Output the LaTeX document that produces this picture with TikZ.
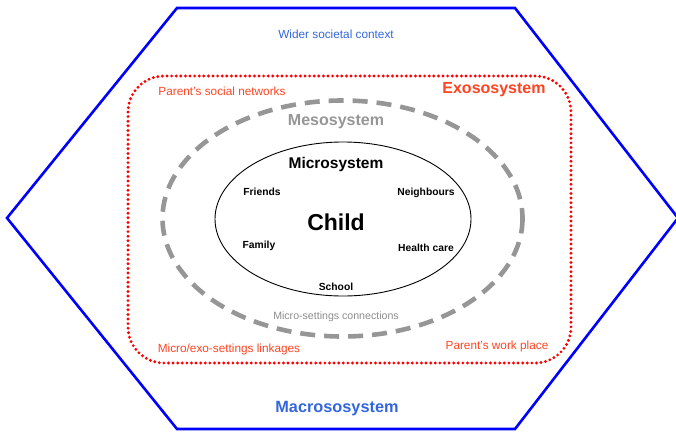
\documentclass[tikz,border=0pt]{standalone}
\usepackage{fontspec}
\setmainfont{Liberation Sans}
\usepackage{tikz}
\usetikzlibrary{positioning}

\definecolor{hexblue}{RGB}{0,0,255}
\definecolor{macroblue}{RGB}{51,102,221}
\definecolor{exored}{RGB}{255,0,0}
\definecolor{exotext}{RGB}{255,68,34}
\definecolor{mesogray}{RGB}{150,150,150}
\definecolor{linkgray}{RGB}{140,140,140}

\begin{document}
\begin{tikzpicture}[x=1pt,y=-1pt]
\tikzset{
	macro line/.style = {draw = hexblue, line width = 2.6pt, line join = miter},
	exo line/.style = {draw = exored, line width = 3.2pt, line cap = round, dash pattern = on 0pt off 4.6pt},
	meso line/.style = {draw = mesogray, line width = 4.6pt, dash pattern = on 15pt off 9pt},
	micro line/.style = {draw = black, line width = 0.9pt},
	big label/.style = {font = \fontsize{16}{18}\selectfont\bfseries, inner sep = 0},
	small label/.style = {font = \fontsize{11.8}{14}\selectfont, inner sep = 0},
	setting/.style = {font = \fontsize{10.3}{12}\selectfont\bfseries, inner sep = 0}
}
\useasboundingbox (0,0) rectangle (676,431);

% systems
\draw[macro line] (7,218) -- (177,8) -- (515,8) -- (678,218) -- (515,429) -- (177,429) -- cycle;
\draw[exo line, rounded corners = 36pt] (128,76) rectangle (571,363);
\draw[meso line] (342.5,218.5) ellipse [x radius = 180, y radius = 118];
\draw[micro line] (343,219) ellipse [x radius = 128, y radius = 77];

% labels
\node (wider)[small label, text = macroblue] at (336,34) {Wider societal context};
\node (macro)[big label, text = macroblue, font = \fontsize{16.3}{18}\selectfont\bfseries] at (337,409) {Macrososystem};
\node (exo)[big label, text = exotext] at (494,90) {Exososystem};
\node (social)[small label, text = exotext] at (222,91) {Parent's social networks};
\node (linkages)[small label, text = exotext] at (229,349) {Micro/exo-settings linkages};
\node (work)[small label, text = exotext] at (497,346) {Parent's work place};
\node (meso)[big label, text = mesogray] at (336,122) {Mesosystem};
\node (connections)[small label, text = linkgray, font = \fontsize{10.6}{12}\selectfont] at (336,317) {Micro-settings connections};
\node (micro)[big label, font = \fontsize{15.5}{18}\selectfont\bfseries] at (336,164) {Microsystem};
\node (child)[inner sep = 0, font = \fontsize{23}{26}\selectfont\bfseries] at (336,222) {Child};
\node (friends)[setting] at (262,192) {Friends};
\node (neighbours)[setting] at (426,193) {Neighbours};
\node (family)[setting] at (259,246) {Family};
\node (health)[setting] at (426,248) {Health care};
\node (school)[setting] at (336,287) {School};
\end{tikzpicture}
\end{document}
